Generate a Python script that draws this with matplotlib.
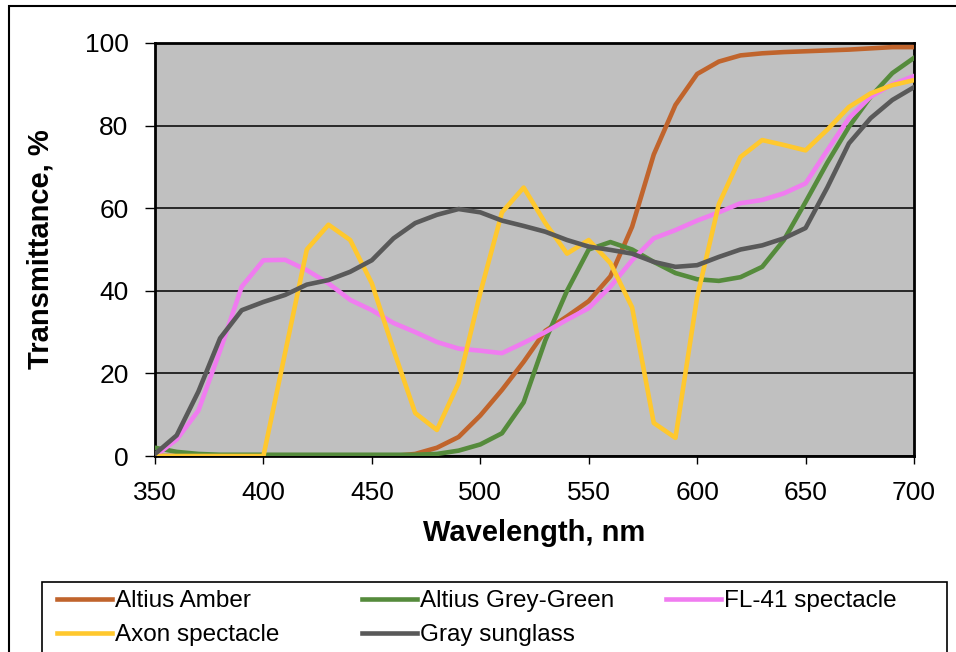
import matplotlib
matplotlib.use('Agg')
import matplotlib.pyplot as plt
from matplotlib.patches import Rectangle

plt.rcParams['font.family'] = ['Liberation Sans', 'DejaVu Sans']

# wavelength grid, nm
wavelength = [350, 360, 370, 380, 390, 400, 410, 420, 430, 440, 450, 460,
              470, 480, 490, 500, 510, 520, 530, 540, 550, 560, 570, 580,
              590, 600, 610, 620, 630, 640, 650, 660, 670, 680, 690, 700]

# transmittance, %
altius_amber = [0, 0, 0, 0, 0, 0, 0, 0, 0, 0, 0, 0,
                0.5, 2, 4.6, 9.8, 16, 22.8, 30.3, 33.8, 37.5, 43.5, 55.5, 73,
                85, 92.5, 95.5, 97, 97.5, 97.8, 98, 98.2, 98.4, 98.7, 99, 99]
altius_grey_green = [2, 1, 0.5, 0.3, 0.3, 0.3, 0.3, 0.3, 0.3, 0.3, 0.3, 0.3,
                     0.3, 0.5, 1.3, 2.8, 5.5, 13, 28, 40, 50, 51.8, 50, 47,
                     44.3, 42.8, 42.4, 43.3, 45.8, 52.3, 61.5, 71, 79.7, 87, 92.7, 96.4]
fl41_spectacle = [0, 4, 11, 25.5, 41, 47.4, 47.5, 45, 41.8, 37.8, 35.3, 32.2,
                  30, 27.6, 26, 25.5, 24.9, 27.4, 30, 33, 35.8, 41, 47.4, 52.7,
                  54.7, 57, 59, 61.2, 62, 63.6, 66, 74, 81.8, 87, 90, 92]
axon_spectacle = [0, 0, 0, 0, 0, 0, 25, 50, 56, 52.3, 41.8, 25.7,
                  10.4, 6.3, 17.7, 39.5, 59, 65, 56.4, 49, 52.3, 46.7, 36, 8,
                  4.4, 38.5, 61, 72.4, 76.5, 75.3, 74, 79, 84.5, 87.8, 89.8, 91]
gray_sunglass = [0.5, 5, 15.6, 28.5, 35.3, 37.3, 39, 41.5, 42.6, 44.6, 47.4, 52.7,
                 56.4, 58.4, 59.8, 59, 57, 55.7, 54.3, 52.3, 50.7, 49.9, 49, 47,
                 45.8, 46.2, 48.2, 50, 51, 52.7, 55.2, 65, 75.7, 81.8, 86.2, 89.3]

labels = ['Altius Amber', 'Altius Grey-Green', 'FL-41 spectacle',
          'Axon spectacle', 'Gray sunglass']
colors = ['#C0642C', '#558B3C', '#F07CF0', '#FFC82E', '#595959']
series = [altius_amber, altius_grey_green, fl41_spectacle,
          axon_spectacle, gray_sunglass]

W, H = 956, 652
fig = plt.figure(figsize=(W / 100, H / 100), dpi=100)
ax = fig.add_axes([155 / W, 1 - 456 / H, 759 / W, 413 / H])
ax.set_facecolor('#C0C0C0')

lines = []
for y, c, lab in zip(series, colors, labels):
    ln, = ax.plot(wavelength, y, color=c, lw=3.3, label=lab,
                  solid_joinstyle='round', zorder=3)
    lines.append(ln)

ax.set_xlim(350, 700)
ax.set_ylim(0, 100)
ax.set_xticks(range(350, 701, 50))
ax.set_yticks(range(0, 101, 20))
ax.yaxis.grid(True, color='black', lw=1.1)
ax.set_axisbelow(True)
for s in ax.spines.values():
    s.set_linewidth(2)
    s.set_color('black')
ax.tick_params(direction='out', length=6, width=1, labelsize=19, pad=12,
               colors='black')
ax.tick_params(axis='y', length=7)

ax.set_xlabel('Wavelength, nm', fontsize=21, fontweight='bold')
ax.set_ylabel('Transmittance, %', fontsize=21, fontweight='bold')
ax.xaxis.set_label_coords(0.5, -(519 - 456) / 413)
ax.yaxis.set_label_coords(-(155 - 55) / 759, 0.5)

# legend: three columns, boxed frame underneath
col_x = [57, 362, 666]
cols = [[0, 3], [1, 4], [2]]
for x0, idx in zip(col_x, cols):
    fig.legend([lines[i] for i in idx], [labels[i] for i in idx],
               loc='upper left', bbox_to_anchor=(x0 / W, 1 - 590 / H),
               frameon=False, fontsize=17.5, borderpad=0, borderaxespad=0,
               handlelength=2.25, handletextpad=0.15, labelspacing=0.5)

fig.patches.append(Rectangle((42 / W, -0.05), (947 - 42) / W, 0.05 + (652 - 582) / H,
                             transform=fig.transFigure, fill=False,
                             edgecolor='black', lw=1.2))
fig.patches.append(Rectangle((9 / W, -0.05), 1.05, 0.05 + (652 - 6) / H,
                             transform=fig.transFigure, fill=False,
                             edgecolor='black', lw=1.5))

fig.savefig('out.png', dpi=100)
